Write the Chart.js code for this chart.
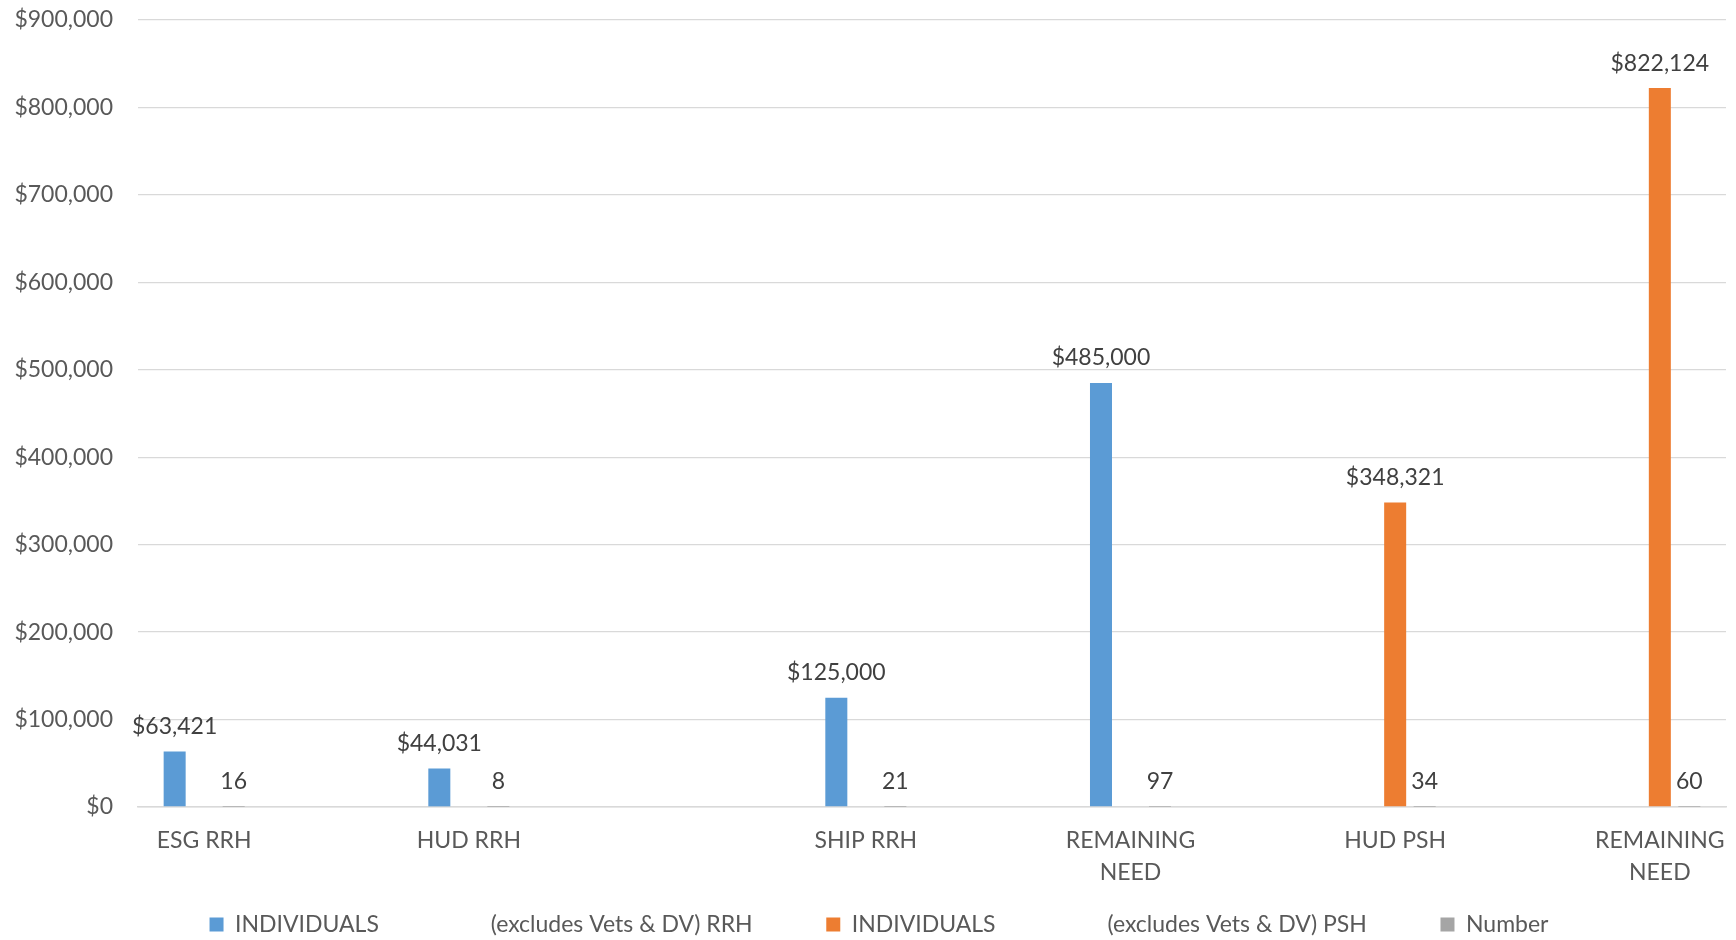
<!DOCTYPE html>
<html>
<head>
<meta charset="utf-8">
<script src="https://cdn.jsdelivr.net/npm/chart.js@4"></script>
<style>
  body { margin: 0; background: #fff; overflow: hidden; }
  #wrap { width: 1736px; height: 940px; }
</style>
</head>
<body>
<div id="wrap"><canvas id="chart"></canvas></div>
<script>
// categories (blank slots keep Excel's spacing)
const categories = ['ESG RRH', '', 'HUD RRH', '', '', 'SHIP RRH', '', ['REMAINING', 'NEED'], '', 'HUD PSH', '', ['REMAINING', 'NEED']];
const rrhAmounts = [63421, null, 44031, null, null, 125000, null, 485000, null, null, null, null];
const pshAmounts = [null, null, null, null, null, null, null, null, null, 348321, null, 822124];
const numbers = [16, null, 8, null, null, 21, null, 97, null, 34, null, 60];
const seriesNames = ['INDIVIDUALS (excludes Vets & DV) RRH', 'INDIVIDUALS (excludes Vets & DV) PSH', 'Number'];
const yTicks = [0, 100000, 200000, 300000, 400000, 500000, 600000, 700000, 800000, 900000];

const FONT = 'Lato';
const money = v => '$' + v.toLocaleString('en-US');

// draws the value above each bar, like Excel data labels
const valueLabels = {
    id: 'valueLabels',
    afterDatasetsDraw(chart) {
        const ctx = chart.ctx;
        ctx.save();
        ctx.font = '23px ' + FONT;
        ctx.fillStyle = '#404040';
        ctx.textAlign = 'center';
        ctx.textBaseline = 'middle';
        chart.data.datasets.forEach((ds, i) => {
            chart.getDatasetMeta(i).data.forEach((bar, j) => {
                const v = ds.data[j];
                if (v == null) return;
                ctx.fillText(i < 2 ? money(v) : String(v), bar.x, bar.y - 25);
            });
        });
        ctx.restore();
    }
};

// nudge the legend a little lower and to the right
const legendNudge = {
    id: 'legendNudge',
    afterLayout(chart) {
        const lg = chart.legend;
        if (!lg) return;
        lg.top += 6;
        lg.bottom += 6;
        lg.left += 16;
        lg.right += 16;
    }
};

const ctx = document.getElementById('chart').getContext('2d');
new Chart(ctx, {
    type: 'bar',
    data: {
        labels: categories,
        datasets: [
            { label: seriesNames[0], data: rrhAmounts, backgroundColor: '#5B9BD5' },
            { label: seriesNames[1], data: pshAmounts, backgroundColor: '#ED7D31' },
            { label: seriesNames[2], data: numbers, backgroundColor: '#A5A5A5' }
        ]
    },
    options: {
        responsive: true,
        maintainAspectRatio: false,
        animation: false,
        categoryPercentage: 0.669,
        barPercentage: 0.746,
        layout: { padding: { top: 20, right: 10, bottom: 0, left: 0 } },
        scales: {
            x: {
                grid: { display: false },
                border: { display: true, color: '#d9d9d9', width: 1.5 },
                ticks: {
                    autoSkip: false,
                    maxRotation: 0,
                    padding: 9,
                    color: '#595959',
                    font: { family: FONT, size: 23, lineHeight: 1.4 }
                },
                afterFit: s => { s.height = 97; }
            },
            y: {
                min: 0,
                max: 900000,
                afterBuildTicks: s => { s.ticks = yTicks.map(v => ({ value: v })); },
                grid: { color: '#d9d9d9', lineWidth: 1.3, drawTicks: false },
                border: { display: false },
                ticks: {
                    padding: 25,
                    color: '#595959',
                    font: { family: FONT, size: 23 },
                    callback: v => money(v)
                },
                afterFit: s => {
                    s.width = 138;
                    s.paddingTop = 0;
                    s.paddingBottom = 0;
                }
            }
        },
        plugins: {
            legend: {
                position: 'bottom',
                labels: {
                    boxWidth: 14,
                    boxHeight: 14,
                    padding: 3,
                    color: '#595959',
                    font: { family: FONT, size: 23 },
                    generateLabels(chart) {
                        const items = Chart.defaults.plugins.legend.labels.generateLabels(chart);
                        items.forEach((it, i) => {
                            it.text = it.text.replace('INDIVIDUALS ', 'INDIVIDUALS' + ' '.repeat(19));
                            if (i < 2) it.text += ' '.repeat(12);
                            it.lineWidth = 0;
                        });
                        return items;
                    }
                }
            },
            tooltip: { enabled: false }
        }
    },
    plugins: [valueLabels, legendNudge]
});
</script>
</body>
</html>
